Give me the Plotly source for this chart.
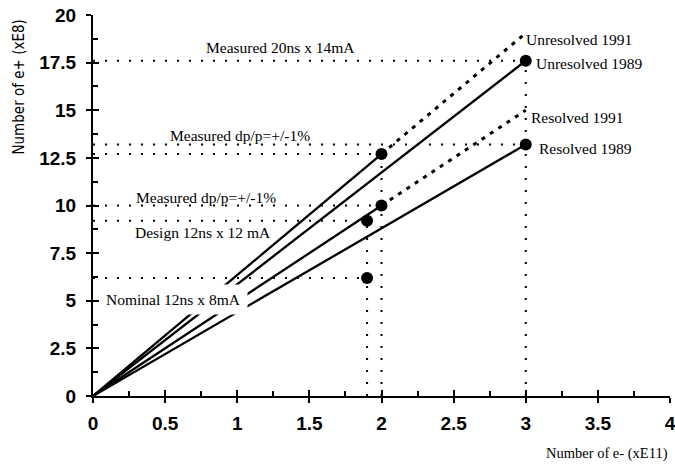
import plotly.graph_objects as go

# ---- data ----
unres89_x = [0, 3.0]
unres89_y = [0, 17.6]
res89_x = [0, 3.0]
res89_y = [0, 13.2]
unres91_solid_x = [0, 2.0]
unres91_solid_y = [0, 12.7]
unres91_dot_x = [2.0, 3.0]
unres91_dot_y = [12.7, 19.05]
res91_solid_x = [0, 2.0]
res91_solid_y = [0, 10.0]
res91_dot_x = [2.0, 3.0]
res91_dot_y = [10.0, 15.0]

points_x = [1.9, 1.9, 2.0, 2.0, 3.0, 3.0]
points_y = [6.2, 9.2, 10.0, 12.7, 13.2, 17.6]

# vertical guide lines (x, top y)
vguide_x = [1.9, 2.0, 3.0]
vguide_top = [9.2, 12.7, 17.6]

x_ticks = [0, 0.5, 1, 1.5, 2, 2.5, 3, 3.5, 4]
y_ticks = [0, 2.5, 5, 7.5, 10, 12.5, 15, 17.5, 20]
x_minor = [0.25, 0.75, 1.25, 1.75, 2.25, 2.75, 3.25, 3.75]
y_minor = [1.25, 3.75, 6.25, 8.75, 11.25, 13.75, 16.25, 18.75]

labels = [
    ("Measured 20ns x 14mA", 1.30, 18.27, "center"),
    ("Unresolved 1991", 2.99, 18.74, "left"),
    ("Unresolved 1989", 3.06, 17.45, "left"),
    ("Resolved 1991", 3.02, 14.6, "left"),
    ("Resolved 1989", 3.08, 12.98, "left"),
    ("Measured dp/p=+/-1%", 1.02, 13.7, "center"),
    ("Measured dp/p=+/-1%", 0.785, 10.42, "center"),
    ("Design 12ns x 12 mA", 0.76, 8.56, "center"),
]
nominal_label = ("Nominal 12ns x 8mA", 0.56, 5.09)

fig = go.Figure()

# guide lines
hx, hy = [], []
for px, py in zip(points_x, points_y):
    hx += [0, px, None]
    hy += [py, py, None]
vx, vy = [], []
for gx, gt in zip(vguide_x, vguide_top):
    vx += [gx, gx, None]
    vy += [0, gt, None]
guide_style = dict(color="black", width=2, dash="2px,10px")
fig.add_trace(go.Scatter(x=hx, y=hy, mode="lines", line=guide_style, hoverinfo="skip"))
fig.add_trace(go.Scatter(x=vx, y=vy, mode="lines", line=guide_style, hoverinfo="skip"))

solid = dict(color="black", width=2.3)
for xs, ys in [(unres89_x, unres89_y), (res89_x, res89_y),
               (unres91_solid_x, unres91_solid_y), (res91_solid_x, res91_solid_y)]:
    fig.add_trace(go.Scatter(x=xs, y=ys, mode="lines", line=solid))

dotted = dict(color="black", width=3, dash="4px,6px")
for xs, ys in [(unres91_dot_x, unres91_dot_y), (res91_dot_x, res91_dot_y)]:
    fig.add_trace(go.Scatter(x=xs, y=ys, mode="lines", line=dotted))

fig.add_trace(go.Scatter(x=points_x, y=points_y, mode="markers",
                         marker=dict(color="black", size=12)))

serif = dict(family="Liberation Serif, Times New Roman, serif", size=15.5, color="black")
for text, x, y, anchor in labels:
    fig.add_annotation(x=x, y=y, text=text, showarrow=False, xanchor=anchor,
                       font=serif)
fig.add_annotation(x=nominal_label[1], y=nominal_label[2], text=nominal_label[0],
                   showarrow=False, font=serif, bgcolor="white", borderpad=6)

fig.add_annotation(xref="paper", yref="paper", x=-0.128, y=0.81,
                   xanchor="center", yanchor="middle",
                   text="Number of e+ (xE8)", textangle=-90, showarrow=False,
                   font=dict(family="Liberation Sans Narrow, DejaVu Sans Condensed, Arial",
                             size=15, color="black"))
fig.add_annotation(xref="paper", yref="paper", x=1.0, y=-0.15, xanchor="right",
                   yanchor="middle",
                   text="Number of e- (xE11)", showarrow=False,
                   font=dict(family="Liberation Serif, Times New Roman, serif", size=14.5,
                             color="black"))

tickfont = dict(family="Liberation Sans, Arial, sans-serif", size=19, color="black",
                weight="bold")
common = dict(showgrid=False, zeroline=False, showline=True, linecolor="black", linewidth=2,
              ticks="outside", ticklen=5, tickwidth=2, tickcolor="black", tickfont=tickfont,
              ticklabeloverflow="allow", automargin=False)
fig.update_layout(
    width=675, height=467,
    margin=dict(l=93, r=5, t=15, b=71, autoexpand=False),
    paper_bgcolor="white", plot_bgcolor="white",
    showlegend=False,
    xaxis=dict(range=[0, 4], tickvals=x_ticks, ticktext=[f"{v:g}" for v in x_ticks],
               ticklabelstandoff=4,
               minor=dict(tickvals=x_minor, ticks="inside", ticklen=5, tickwidth=1.5,
                          tickcolor="black"), **common),
    yaxis=dict(range=[0, 20], tickvals=y_ticks, ticktext=[f"{v:g}" for v in y_ticks],
               ticklabelstandoff=6,
               minor=dict(tickvals=y_minor, ticks="inside", ticklen=5, tickwidth=1.5,
                          tickcolor="black"), **common),
    xaxis2=dict(range=[0, 4], overlaying="x", tickvals=x_ticks, showticklabels=False,
                showgrid=False, zeroline=False, ticks="inside", ticklen=6, tickwidth=2,
                tickcolor="black", side="bottom", automargin=False),
    yaxis2=dict(range=[0, 20], overlaying="y", tickvals=y_ticks, showticklabels=False,
                showgrid=False, zeroline=False, ticks="inside", ticklen=6, tickwidth=2,
                tickcolor="black", side="left", automargin=False),
)
fig.add_trace(go.Scatter(x=[None], y=[None], xaxis="x2", yaxis="y2", showlegend=False))

fig.write_html("out.html", config={"displayModeBar": False},
               post_script="document.body.style.margin='0';document.body.style.overflow='hidden';")
